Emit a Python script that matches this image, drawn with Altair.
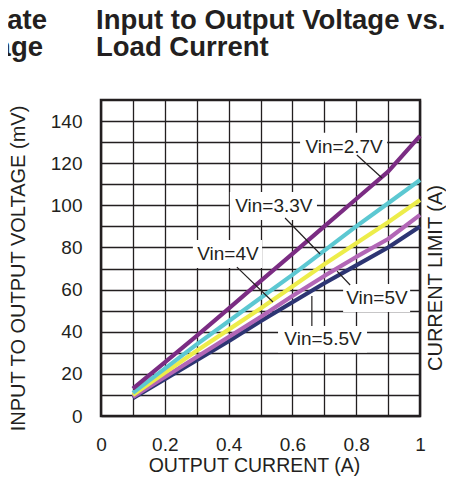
import altair as alt
import pandas as pd

# ---- data ----
currents = [0.1, 0.2, 0.3, 0.4, 0.5, 0.6, 0.7, 0.8, 0.9, 1.0]
series_names = ["Vin=5.5V", "Vin=5V", "Vin=4V", "Vin=3.3V", "Vin=2.7V"]
v55 = [8.5, 17.5, 26.5, 35.5, 45, 54, 63, 71.5, 80, 90]
v5 = [9, 18.5, 28, 37.5, 47, 57, 66.5, 75.5, 84, 95.5]
v4 = [10, 20.5, 31, 41, 51, 61.5, 72, 82, 92, 102.5]
v33 = [11, 22.5, 34, 45, 56, 67, 78.5, 90, 101, 112]
v27 = [13, 25.5, 38, 51, 64, 77, 90, 103, 116, 133]
series_colors = ["#2d3573", "#b266b6", "#eded4a", "#5cc8d2", "#7b2c83"]

label_text = ["Vin=2.7V", "Vin=3.3V", "Vin=4V", "Vin=5V", "Vin=5.5V"]
label_x = [0.762, 0.542, 0.398, 0.865, 0.696]
label_y = [127.7, 99.7, 76.9, 56.0, 36.5]
box_x1 = [0.624, 0.404, 0.288, 0.759, 0.555]
box_x2 = [0.897, 0.677, 0.505, 0.969, 0.834]
box_y1 = [120.3, 93.0, 70.3, 49.4, 30.2]
box_y2 = [134.5, 106.3, 83.5, 62.7, 42.7]
lead_x1 = [0.802, 0.577, 0.426, 0.740, 0.661]
lead_y1 = [123.9, 94.0, 70.7, 68.8, 57.0]
lead_x2 = [0.881, 0.687, 0.539, 0.781, 0.661]
lead_y2 = [113.0, 76.9, 54.1, 62.2, 42.7]

x_grid = [round(i / 10, 1) for i in range(0, 11)]
y_grid = list(range(0, 150, 10))

title_line1 = "Input to Output Voltage vs."
title_line2 = "Load Current"
frag_line1 = "tate"
frag_line2 = "age"
x_title = "OUTPUT CURRENT (A)"
y_title = "INPUT TO OUTPUT VOLTAGE (mV)"
right_title = "CURRENT LIMIT (A)"

# ---- tables ----
rows = []
for name, vals in zip(series_names, [v55, v5, v4, v33, v27]):
    for c, v in zip(currents, vals):
        rows.append({"series": name, "current": c, "mv": v})
df = pd.DataFrame(rows)

lab = pd.DataFrame({
    "text": label_text, "lx": label_x, "ly": label_y,
    "bx1": box_x1, "bx2": box_x2, "by1": box_y1, "by2": box_y2,
    "ax1": lead_x1, "ay1": lead_y1, "ax2": lead_x2, "ay2": lead_y2,
})

FONT = "Liberation Sans"
INK = "#231f20"

xs = alt.Scale(domain=[0, 1], nice=False, zero=False)
ys = alt.Scale(domain=[0, 150], nice=False, zero=False)

xaxis = alt.Axis(
    values=x_grid, format="~g",
    labelExpr="round(datum.value*10) % 2 == 0 ? datum.label : ''",
    grid=True, gridColor=INK, gridWidth=1.3, gridOpacity=1,
    ticks=False, domain=False, labelFlush=False, labelOverlap=False,
    labelFont=FONT, labelFontSize=19, labelColor=INK, labelPadding=19,
    title=x_title, titleFont=FONT, titleFontSize=19.5, titleFontWeight="normal",
    titleColor=INK, titleX=153, titleY=49, titleBaseline="middle", titleAlign="center",
)
yaxis = alt.Axis(
    values=y_grid,
    labelExpr="datum.value % 20 == 0 ? datum.label : ''",
    grid=True, gridColor=INK, gridWidth=1.3, gridOpacity=1,
    ticks=False, domain=False, labelOverlap=False,
    labelFont=FONT, labelFontSize=19, labelColor=INK, labelPadding=19,
    title=y_title, titleFont=FONT, titleFontSize=20, titleFontWeight="normal",
    titleColor=INK, titleX=-83, titleY=168, titleAngle=270,
    titleBaseline="middle", titleAlign="center",
)

layers = []
for name, col in zip(series_names, series_colors):
    layers.append(
        alt.Chart(df[df.series == name]).mark_line(
            color=col, strokeWidth=4.2, strokeJoin="round", strokeCap="butt"
        ).encode(
            x=alt.X("current:Q", scale=xs, axis=xaxis),
            y=alt.Y("mv:Q", scale=ys, axis=yaxis),
        )
    )

boxes = alt.Chart(lab).mark_rect(fill="white", stroke=None).encode(
    x=alt.X("bx1:Q", scale=xs, axis=xaxis), x2="bx2:Q",
    y=alt.Y("by1:Q", scale=ys, axis=yaxis), y2="by2:Q",
)
leaders = alt.Chart(lab).mark_rule(color=INK, strokeWidth=1.2).encode(
    x=alt.X("ax1:Q", scale=xs, axis=xaxis), x2="ax2:Q",
    y=alt.Y("ay1:Q", scale=ys, axis=yaxis), y2="ay2:Q",
)
texts = alt.Chart(lab).mark_text(
    font=FONT, fontSize=19, color=INK, align="center", baseline="middle"
).encode(
    x=alt.X("lx:Q", scale=xs, axis=xaxis),
    y=alt.Y("ly:Q", scale=ys, axis=yaxis),
    text="text:N",
)


def text_layer(s, x, y, size, weight="normal", align="left", angle=0, baseline="alphabetic"):
    return alt.Chart(pd.DataFrame({"t": [s]})).mark_text(
        font=FONT, fontSize=size, fontWeight=weight, color=INK,
        align=align, baseline=baseline, angle=angle,
    ).encode(x=alt.value(x), y=alt.value(y), text="t:N")


rtitle = text_layer(right_title, 335, 178, 20, align="center", angle=270, baseline="middle")
t1 = text_layer(title_line1, -5, -71, 27.5, weight="bold")
t2 = text_layer(title_line2, -5, -44.5, 27.5, weight="bold")
f1 = text_layer(frag_line1, -54, -71, 27.5, weight="bold", align="right")
f2 = text_layer(frag_line2, -58, -44.5, 27.5, weight="bold", align="right")

chart = alt.layer(*layers, boxes, leaders, texts, rtitle, t1, t2, f1, f2).properties(
    width=319, height=316,
    autosize=alt.AutoSizeParams(type="none"),
    padding={"left": 93, "top": 92, "right": 26, "bottom": 61},
).configure_view(stroke=INK, strokeWidth=2.5)

chart.save("out.html", embed_options={"renderer": "svg", "actions": False})
